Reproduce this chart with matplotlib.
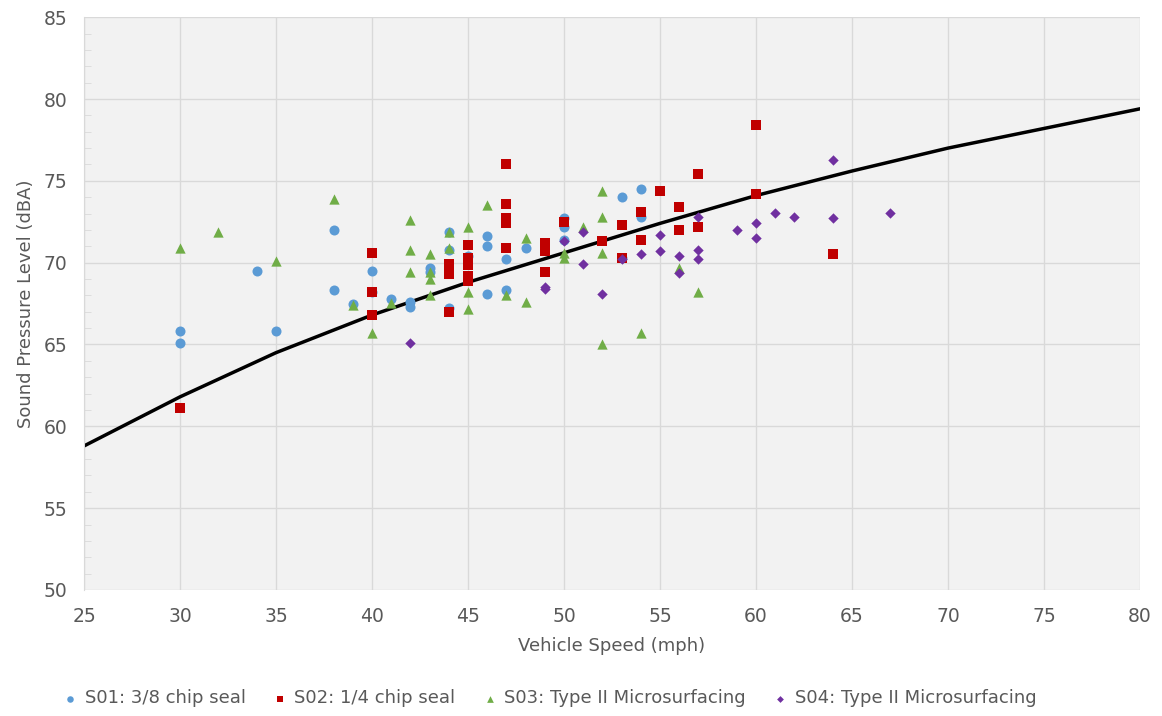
import matplotlib.pyplot as plt
from matplotlib.ticker import MultipleLocator

# S01: 3/8 chip seal
s01_speed = [30, 30, 34, 35, 38, 38, 39, 40, 40, 41, 42, 42, 43, 43, 44, 44, 44,
             45, 46, 46, 46, 47, 47, 48, 50, 50, 50, 53, 53, 54, 54]
s01_spl = [65.8, 65.1, 69.5, 65.8, 72.0, 68.3, 67.45, 69.5, 68.2, 67.8, 67.6, 67.3,
           69.65, 69.45, 71.9, 70.8, 67.2, 70.4, 71.6, 71.0, 68.1, 70.2, 68.3,
           70.9, 72.7, 72.2, 71.4, 74.0, 70.3, 74.5, 72.8]

# S02: 1/4 chip seal
s02_speed = [30, 40, 40, 40, 44, 44, 44, 45, 45, 45, 45, 45, 47, 47, 47, 47, 47,
             49, 49, 49, 50, 52, 53, 53, 54, 54, 55, 56, 56, 57, 57, 60, 60, 64]
s02_spl = [61.1, 70.6, 68.2, 66.8, 69.9, 69.3, 67.0, 71.1, 70.3, 69.85, 69.2, 68.9,
           76.0, 73.6, 72.7, 72.4, 70.9, 71.2, 70.7, 69.4, 72.5, 71.3, 72.3, 70.3,
           73.1, 71.4, 74.4, 73.4, 72.0, 75.4, 72.2, 78.4, 74.2, 70.5]

# S03: Type II Microsurfacing
s03_speed = [30, 32, 35, 38, 39, 40, 41, 42, 42, 42, 43, 43, 43, 43, 44, 44, 45, 45,
             45, 46, 47, 48, 48, 50, 50, 51, 52, 52, 52, 52, 54, 56, 57]
s03_spl = [70.9, 71.9, 70.1, 73.9, 67.4, 65.7, 67.55, 72.6, 70.8, 69.45, 70.5, 69.4,
           69.0, 68.0, 71.9, 70.9, 72.2, 68.2, 67.15, 73.5, 68.0, 71.5, 67.6, 70.6,
           70.3, 72.2, 74.4, 72.8, 70.6, 65.0, 65.7, 69.65, 68.2]

# S04: Type II Microsurfacing
s04_speed = [42, 49, 49, 50, 51, 51, 52, 53, 54, 55, 55, 56, 56, 57, 57, 57, 59,
             60, 60, 61, 62, 64, 64, 67]
s04_spl = [65.1, 68.5, 68.4, 71.3, 71.9, 69.9, 68.1, 70.2, 70.5, 71.7, 70.7, 70.4,
           69.35, 72.8, 70.8, 70.2, 72.0, 72.4, 71.5, 73.05, 72.8, 76.3, 72.7, 73.05]

# fitted curve
fit_speed = [25, 30, 35, 40, 45, 50, 55, 60, 65, 70, 75, 80]
fit_spl = [58.8, 61.8, 64.5, 66.8, 68.8, 70.6, 72.4, 74.1, 75.6, 77.0, 78.2, 79.4]

SERIES = [
    (s01_speed, s01_spl, "S01: 3/8 chip seal", "#5b9bd5", "o", 52),
    (s02_speed, s02_spl, "S02: 1/4 chip seal", "#c00000", "s", 44),
    (s03_speed, s03_spl, "S03: Type II Microsurfacing", "#70ad47", "^", 55),
    (s04_speed, s04_spl, "S04: Type II Microsurfacing", "#7030a0", "D", 28),
]

plt.rcParams["font.family"] = ["DejaVu Sans"]

fig = plt.figure(figsize=(11.62, 7.16), dpi=100)
ax = fig.add_axes([0.0723, 0.176, 0.9087, 0.8])
ax.set_facecolor("#f2f2f2")

for xs, ys, label, color, marker, size in SERIES:
    ax.scatter(xs, ys, s=size, marker=marker, color=color, label=label,
               linewidths=0, zorder=3)
ax.plot(fit_speed, fit_spl, color="black", lw=2.5, zorder=2)

ax.set_xlim(25, 80)
ax.set_ylim(50, 85)
ax.xaxis.set_major_locator(MultipleLocator(5))
ax.yaxis.set_major_locator(MultipleLocator(5))
ax.yaxis.set_minor_locator(MultipleLocator(1))
ax.grid(which="major", color="#d9d9d9", lw=1, zorder=0)
ax.tick_params(which="major", length=0, labelsize=13.5, labelcolor="#595959", pad=12)
ax.tick_params(which="minor", axis="y", direction="in", length=5, color="#d9d9d9")
for side in ["top", "right", "bottom"]:
    ax.spines[side].set_visible(False)
ax.spines["left"].set_color("#d9d9d9")

ax.set_xlabel("Vehicle Speed (mph)", fontsize=13, color="#595959", labelpad=8)
ax.set_ylabel("Sound Pressure Level (dBA)", fontsize=13, color="#595959", labelpad=6)

ax.legend(loc="upper center", bbox_to_anchor=(0.44, -0.145), ncol=4, frameon=False,
          fontsize=13, labelcolor="#595959", handlelength=1.0, handletextpad=0.3,
          columnspacing=1.4, markerscale=0.65)

fig.savefig("out.png", dpi=100)
